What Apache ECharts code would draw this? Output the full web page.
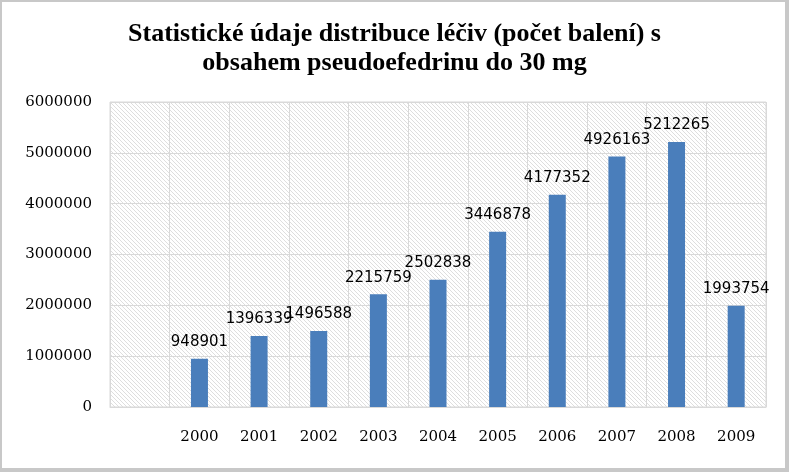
<!DOCTYPE html>
<html>
<head>
<meta charset="utf-8">
<script src="https://cdn.jsdelivr.net/npm/echarts@6/dist/echarts.min.js"></script>
<style>
html,body{margin:0;padding:0;background:#fff;}
#chart{width:789px;height:472px;}
</style>
</head>
<body>
<div id="chart"></div>
<script>
const categories = ['', '2000', '2001', '2002', '2003', '2004', '2005', '2006', '2007', '2008', '2009'];
const values = [null, 948901, 1396339, 1496588, 2215759, 2502838, 3446878, 4177352, 4926163, 5212265, 1993754];
const titleText = 'Statistické údaje distribuce léčiv (počet balení) s\nobsahem pseudoefedrinu do 30 mg';

// hatch pattern for plot background
const pc = document.createElement('canvas');
pc.width = 4; pc.height = 4;
const ctx = pc.getContext('2d');
ctx.fillStyle = '#ffffff';
ctx.fillRect(0, 0, 4, 4);
ctx.strokeStyle = '#dedede';
ctx.lineWidth = 1;
ctx.beginPath();
ctx.moveTo(0, 0); ctx.lineTo(4, 4);
ctx.moveTo(-1, 3); ctx.lineTo(1, 5);
ctx.moveTo(3, -1); ctx.lineTo(5, 1);
ctx.stroke();

const chart = echarts.init(document.getElementById('chart'));
chart.setOption({
  backgroundColor: '#c8c8c8',
  animation: false,
  graphic: [{
    type: 'rect', left: 2, top: 2, z: -10,
    shape: { width: 783, height: 466 },
    style: { fill: '#ffffff' }
  }],
  title: {
    text: titleText,
    left: 'center',
    top: 15,
    textStyle: {
      fontFamily: 'Liberation Serif',
      fontWeight: 'bold',
      fontSize: 26,
      lineHeight: 29,
      color: '#000'
    }
  },
  grid: {
    left: 110, right: 23, top: 102, bottom: 65,
    show: true,
    backgroundColor: { image: pc, repeat: 'repeat' },
    borderColor: '#d9d9d9',
    borderWidth: 1
  },
  xAxis: {
    type: 'category',
    data: categories,
    axisLine: { show: true, lineStyle: { color: '#d9d9d9' } },
    axisTick: { show: false },
    splitLine: { show: true, lineStyle: { color: '#d9d9d9', width: 1 } },
    axisLabel: {
      margin: 23,
      fontFamily: 'DejaVu Serif',
      fontSize: 15,
      color: '#000'
    }
  },
  yAxis: {
    type: 'value',
    min: 0, max: 6000000, interval: 1000000,
    axisLine: { show: false },
    axisTick: { show: false },
    splitLine: { show: true, lineStyle: { color: '#d9d9d9', width: 1 } },
    axisLabel: {
      margin: 18,
      fontFamily: 'DejaVu Serif',
      fontSize: 15,
      color: '#000',
      formatter: function (v) { return String(v); }
    }
  },
  series: [{
    type: 'bar',
    data: values,
    barWidth: 17,
    itemStyle: { color: '#4a7ebb' },
    label: {
      show: true,
      position: 'top',
      distance: 9,
      fontFamily: 'DejaVu Sans',
      fontSize: 15,
      color: '#000'
    }
  }]
});
</script>
</body>
</html>
